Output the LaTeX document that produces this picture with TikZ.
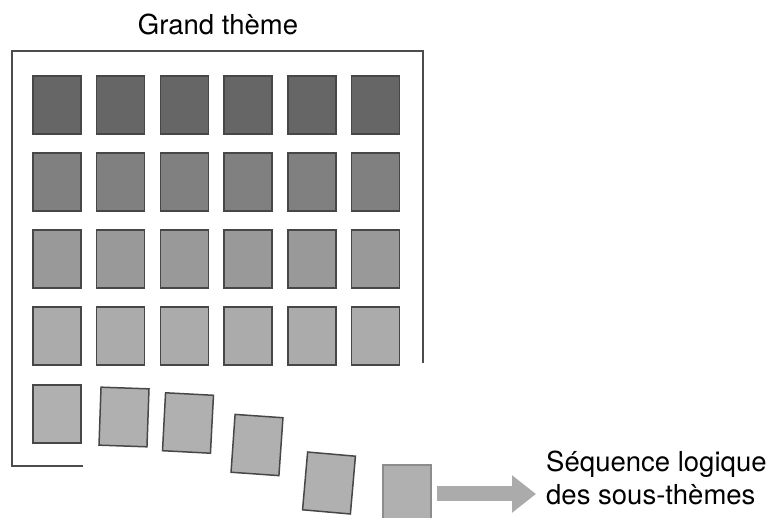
\documentclass[tikz,border=0pt]{standalone}
\usepackage{fontspec}
\setmainfont{TeX Gyre Heros}
\usetikzlibrary{arrows.meta,positioning}

\begin{document}
\begin{tikzpicture}[x=1pt,y=-1pt,
    tile/.style={draw=black!72,line width=1.5pt,minimum width=48pt,minimum height=58pt,inner sep=0pt},
    frameline/.style={black!70,line width=2.5pt},
    flow/.style={black!33,line width=15pt,-{Triangle[length=24pt,width=36pt]}},
    lbl/.style={font=\fontsize{27.5}{33}\selectfont,inner sep=0pt}]
  \useasboundingbox (0,0) rectangle (772,518);
  \draw[frameline] (423,363) -- (423,51) -- (12,51) -- (12,466) -- (83,466);
  \node[lbl,anchor=base] (theme) at (218,35) {Grand thème};
  % the four full rows of the grid
  \foreach \r/\shade in {1/60,2/50,3/40,4/33} {
    \foreach \c in {1,...,6} {
      \node[tile,fill=black!\shade] (t\r\c) at ({57+63.7*(\c-1)},{105+77*(\r-1)}) {};
    }
  }
  % last row slipping out of the frame
  \foreach \c/\x/\y/\a in {1/57/414/0,2/124/417/-2,3/188/423/-3,4/257/445/-4,5/329/483/-5} {
    \node[tile,fill=black!31,rotate=\a] (s\c) at (\x,\y) {};
  }
  \node[tile,fill=black!31,draw=black!45] (s6) at (407,494) {};
  \node[lbl,anchor=base west,align=left] (seq) at (546,505) {Séquence logique\\des sous-thèmes};
  \draw[flow] ([xshift=5pt]s6.east) -- ([xshift=-10pt]s6 -| seq.west);
\end{tikzpicture}
\end{document}
